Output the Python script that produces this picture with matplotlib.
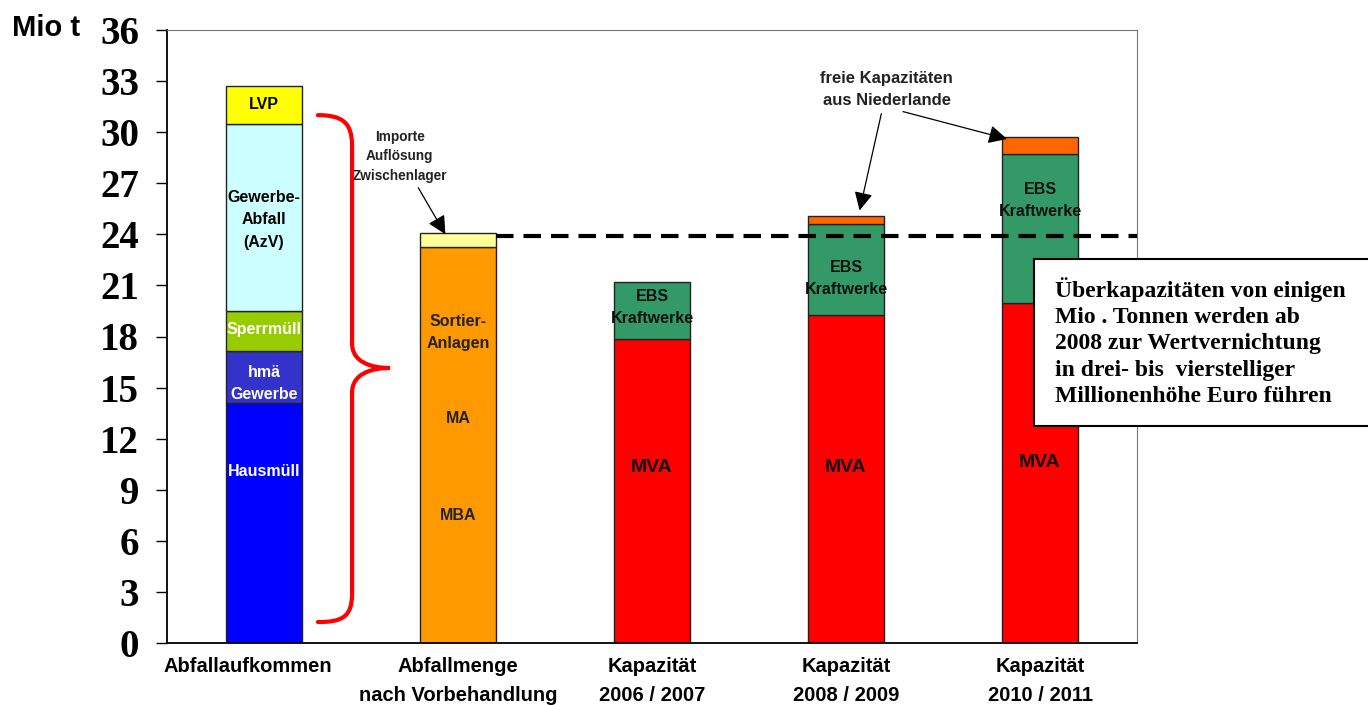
import matplotlib
matplotlib.use("Agg")
import matplotlib.pyplot as plt
import matplotlib.transforms as mtransforms
from matplotlib.path import Path
from matplotlib.patches import PathPatch, Rectangle

# Kategorien (x-Achse)
kategorien = ["Abfallaufkommen", "Abfallmenge\nnach Vorbehandlung",
              "Kapazität\n2006 / 2007", "Kapazität\n2008 / 2009", "Kapazität\n2010 / 2011"]

# Balken 1: Abfallaufkommen (Mio t)
aufkommen_namen = ["Hausmüll", "hmä\nGewerbe", "Sperrmüll", "Gewerbe-\nAbfall\n(AzV)", "LVP"]
aufkommen_werte = [14.1, 3.05, 2.35, 11.0, 2.2]
aufkommen_farben = ["#0000FF", "#3333CC", "#99CC00", "#CCFFFF", "#FFFF00"]

# Balken 2: Abfallmenge nach Vorbehandlung
vorbehandlung = 23.25
importe = 0.8

# Balken 3-5: Kapazitäten
mva = [17.85, 19.26, 19.95]
ebs = [3.35, 5.34, 8.75]
niederlande = [0.0, 0.47, 1.0]

schwelle = 23.9
yticks = list(range(0, 37, 3))

sans = "Liberation Sans"
serif = "Liberation Serif"

fig = plt.figure(figsize=(13.68, 7.05), dpi=100)
ax = fig.add_axes([167 / 1368, 62 / 705, 970 / 1368, 613 / 705])

breite = 0.39
kante = dict(edgecolor="#222222", linewidth=1)

# ---- Balken 1 ----
boden = 0
for wert, farbe in zip(aufkommen_werte, aufkommen_farben):
    ax.bar(0, wert, breite, bottom=boden, color=farbe, **kante)
    boden += wert

# ---- Balken 2 ----
ax.bar(1, vorbehandlung, breite, color="#FF9900", **kante)
ax.bar(1, importe, breite, bottom=vorbehandlung, color="#FFFF99", **kante)

# ---- Balken 3-5 ----
xs = [2, 3, 4]
ax.bar(xs, mva, breite, color="#FF0000", **kante)
ax.bar(xs, ebs, breite, bottom=mva, color="#339966", **kante)
for x, m, e, n in zip(xs, mva, ebs, niederlande):
    if n > 0:
        ax.bar(x, n, breite, bottom=m + e, color="#FF6600", **kante)

# ---- Beschriftungen in den Balken ----
lab = dict(ha="center", va="center", fontweight="bold", family=sans, fontsize=11.5)
ax.text(0, 31.6, "LVP", color="black", **lab)
ax.text(0, 24.85, "Gewerbe-\nAbfall\n(AzV)", color="black", linespacing=1.6, **lab)
ax.text(0, 18.4, "Sperrmüll", color="white", **lab)
ax.text(0, 15.25, "hmä\nGewerbe", color="white", linespacing=1.6, **lab)
ax.text(0, 10.05, "Hausmüll", color="white", **lab)

ax.text(1, 18.25, "Sortier-\nAnlagen", color="#222222", linespacing=1.6, **lab)
ax.text(1, 13.2, "MA", color="#222222", **lab)
ax.text(1, 7.5, "MBA", color="#222222", **lab)

for x, y in zip(xs, [19.7, 21.4, 26.0]):
    ax.text(x, y, "EBS\nKraftwerke", color="#111111", linespacing=1.6, **lab)
for x, y in zip(xs, [10.3, 10.3, 10.6]):
    ax.text(x, y, "MVA", color="#111111", ha="center", va="center",
            fontweight="bold", family=sans, fontsize=14)

# ---- gestrichelte Linie ----
ax.plot([1 + breite / 2, 4.5], [schwelle, schwelle], color="black", lw=3,
        linestyle=(0, (4.2, 2.4)), zorder=4)

# ---- geschweifte Klammer ----
bx0, bx1, bx2 = 0.278, 0.454, 0.65
punkte = [(bx0, 31.0), (0.40, 31.0), (bx1, 30.6), (bx1, 29.2),
          (bx1, 17.6),
          (bx1, 16.5), (0.55, 16.15), (bx2, 16.15),
          (0.55, 16.15), (bx1, 15.8), (bx1, 14.7),
          (bx1, 2.9),
          (bx1, 1.5), (0.40, 1.23), (bx0, 1.23)]
codes = [Path.MOVETO, Path.CURVE4, Path.CURVE4, Path.CURVE4,
         Path.LINETO,
         Path.CURVE4, Path.CURVE4, Path.CURVE4,
         Path.CURVE4, Path.CURVE4, Path.CURVE4,
         Path.LINETO,
         Path.CURVE4, Path.CURVE4, Path.CURVE4]
ax.add_patch(PathPatch(Path(punkte, codes), facecolor="none", edgecolor="red",
                       lw=3, capstyle="round", zorder=3))

# ---- Annotationen ----
pfeil = dict(arrowstyle="-|>", color="black", lw=0.9, mutation_scale=28, shrinkA=2, shrinkB=0)
ax.annotate("Importe\nAuflösung\nZwischenlager", xy=(0.935, 24.0), xytext=(0.70, 28.6),
            ha="center", va="center", fontsize=9.8, fontweight="bold", family=sans,
            color="#222222", linespacing=1.5, arrowprops=pfeil)
ax.annotate("freie Kapazitäten\naus Niederlande", xy=(3.07, 25.4), xytext=(3.21, 32.5),
            ha="center", va="center", fontsize=12, fontweight="bold", family=sans,
            color="#222222", linespacing=1.6, arrowprops=pfeil)
ax.annotate("", xy=(3.83, 29.6), xytext=(3.28, 31.25), arrowprops=pfeil)

# ---- Achsen ----
ax.set_xlim(-0.5, 4.5)
ax.set_ylim(0, 36)
ax.set_yticks(yticks)
ax.set_yticklabels([str(t) for t in yticks], family=serif, fontweight="bold", fontsize=28)
ax.tick_params(axis="y", direction="out", length=8, width=1, pad=12)
ax.set_xticks(range(len(kategorien)))
ax.set_xticklabels(kategorien, family=sans, fontweight="bold", fontsize=14.5, linespacing=1.7)
ax.tick_params(axis="x", length=0, pad=10)
# erste Beschriftung steht etwas links vom Balken
erste = ax.get_xticklabels()[0]
erste.set_transform(erste.get_transform() +
                    mtransforms.ScaledTranslation(-16 / 100, 0, fig.dpi_scale_trans))
ax.spines["left"].set_linewidth(1.3)
ax.spines["bottom"].set_linewidth(1.3)
ax.spines["top"].set_color("#777777")
ax.spines["right"].set_color("#777777")
ax.spines["top"].set_linewidth(0.8)
ax.spines["right"].set_linewidth(0.8)

fig.text(12 / 1368, 1 - 28 / 705, "Mio t", family=sans, fontweight="bold",
         fontsize=21, ha="left", va="center")

# ---- Textkasten ----
fig.add_artist(Rectangle((1034 / 1368, 1 - 426 / 705), 0.3, 167 / 705,
                         transform=fig.transFigure, facecolor="white",
                         edgecolor="black", lw=1.5, zorder=5))
fig.text(1055 / 1368, 1 - 342 / 705,
         "Überkapazitäten von einigen\nMio . Tonnen werden ab\n2008 zur Wertvernichtung\n"
         "in drei- bis  vierstelliger\nMillionenhöhe Euro führen",
         family=serif, fontweight="bold", fontsize=17, linespacing=1.33,
         ha="left", va="center", zorder=6)

fig.savefig("out.png", dpi=100)
